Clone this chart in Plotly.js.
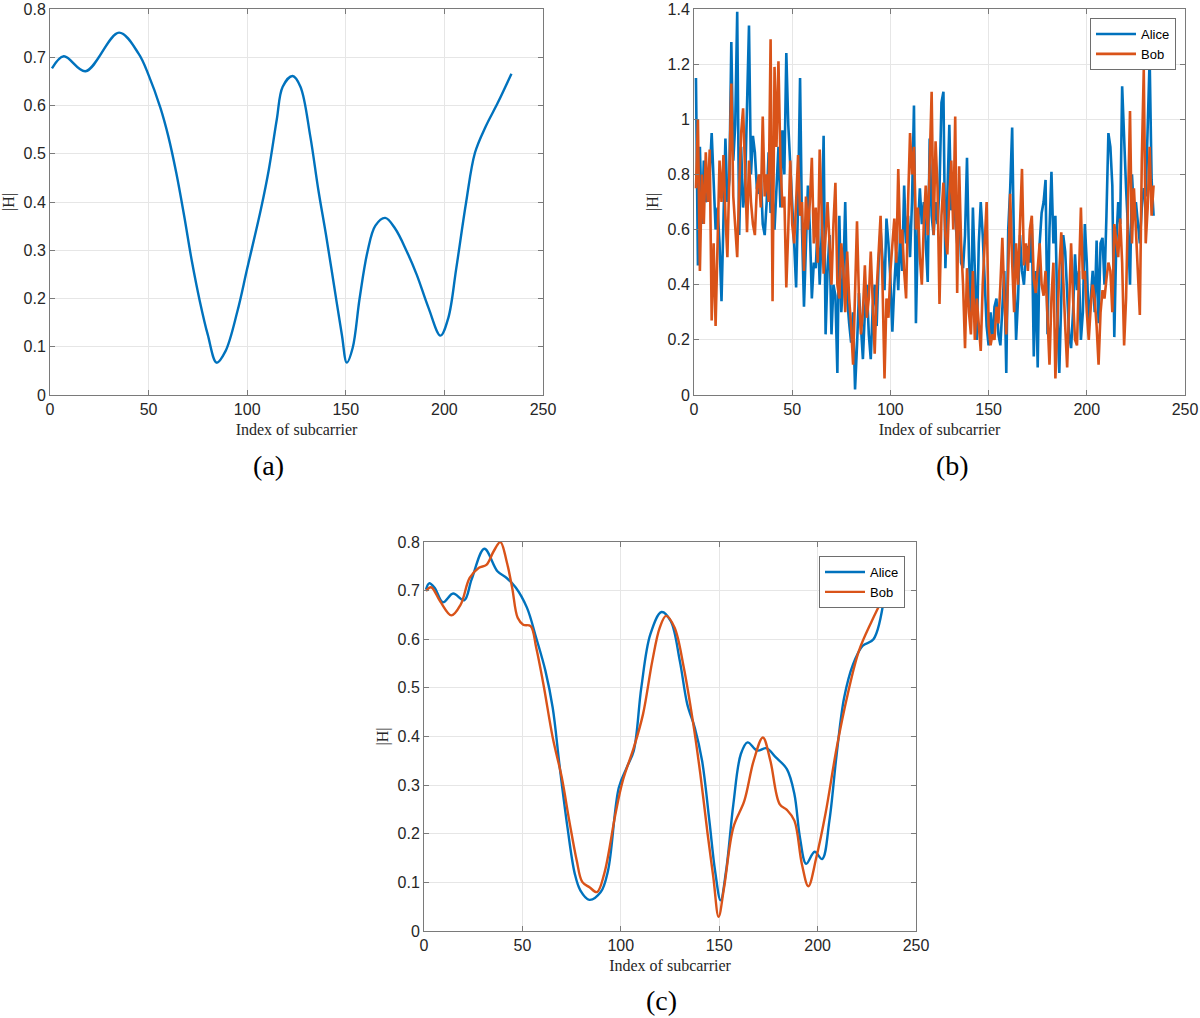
<!DOCTYPE html>
<html>
<head>
<meta charset="utf-8">
<script src="https://cdn.plot.ly/plotly-3.0.1.min.js"></script>
<style>
  html, body { margin: 0; padding: 0; background: #fff; }
  #fig { width: 1200px; height: 1018px; }
</style>
</head>
<body>
<div id="fig"></div>
<script>
// (a) single channel response, sampled along the smooth curve
const aX = [1, 7, 18, 35, 45, 50, 56, 60, 64, 68, 72, 76, 80, 84.5, 89, 95, 100, 107, 111, 115,
            118, 123, 127, 132, 136, 140, 144, 148, 150.5, 153.5, 157, 161, 165, 170, 175, 181, 186, 192, 198, 202,
            206, 211, 215.5, 221, 227, 234];
const aH = [0.677, 0.702, 0.671, 0.751, 0.707, 0.663, 0.595, 0.536, 0.461, 0.372, 0.276, 0.194, 0.125, 0.067, 0.091, 0.173, 0.262, 0.386, 0.468, 0.571,
            0.639, 0.661, 0.639, 0.536, 0.427, 0.331, 0.228, 0.125, 0.067, 0.098, 0.200, 0.297, 0.351, 0.367, 0.345, 0.297, 0.249, 0.180, 0.123, 0.160,
            0.262, 0.399, 0.502, 0.557, 0.605, 0.666];

// (b) raw measurements, one value per subcarrier
const bAlice = [
  1.15, 0.47, 0.90, 0.62, 0.85, 0.70, 0.72, 0.80, 0.95, 0.74,
  0.60, 0.68, 0.55, 0.34, 0.62, 0.93, 0.70, 0.78, 1.28, 0.85,
  0.98, 1.39, 0.58, 0.90, 0.68, 0.75, 1.05, 1.34, 0.80, 0.94,
  0.88, 0.75, 0.73, 0.80, 0.62, 0.58, 0.70, 0.88, 0.66, 0.72,
  0.60, 0.75, 0.90, 0.68, 0.96, 0.80, 1.24, 0.98, 0.85, 0.70,
  0.55, 0.39, 0.70, 1.15, 0.60, 0.32, 0.52, 0.76, 0.60, 0.35,
  0.48, 0.46, 0.62, 0.40, 0.58, 0.94, 0.22, 0.45, 0.58, 0.22,
  0.40, 0.36, 0.08, 0.65, 0.30, 0.42, 0.70, 0.35, 0.26, 0.19,
  0.30, 0.02, 0.18, 0.37, 0.25, 0.13, 0.30, 0.40, 0.22, 0.13,
  0.32, 0.40, 0.25, 0.48, 0.60, 0.50, 0.38, 0.64, 0.55, 0.42,
  0.23, 0.40, 0.52, 0.38, 0.60, 0.45, 0.76, 0.55, 0.65, 0.50,
  0.70, 1.05, 0.26, 0.60, 0.75, 0.62, 0.70, 0.55, 0.41, 0.93,
  0.65, 0.58, 0.70, 0.62, 0.75, 1.06, 1.10, 0.46, 0.70, 0.98,
  0.67, 0.72, 0.64, 0.55, 0.70, 0.48, 0.46, 0.58, 0.86, 0.50,
  0.29, 0.68, 0.45, 0.20, 0.55, 0.70, 0.58, 0.40, 0.25, 0.18,
  0.30, 0.20, 0.32, 0.35, 0.22, 0.18, 0.30, 0.45, 0.08, 0.60,
  0.75, 0.97, 0.50, 0.20, 0.35, 0.58, 0.45, 0.40, 0.52, 0.54,
  0.48, 0.62, 0.14, 0.45, 0.10, 0.55, 0.66, 0.70, 0.78, 0.22,
  0.60, 0.81, 0.55, 0.65, 0.30, 0.08, 0.35, 0.58, 0.52, 0.36,
  0.22, 0.17, 0.30, 0.51, 0.38, 0.45, 0.20, 0.30, 0.62, 0.48,
  0.25, 0.35, 0.45, 0.30, 0.56, 0.26, 0.55, 0.57, 0.40, 0.65,
  0.95, 0.90, 0.76, 0.21, 0.55, 0.70, 0.62, 1.12, 0.91, 0.75,
  0.60, 0.40, 0.80, 0.66, 0.70, 0.62, 0.55, 0.68, 0.75, 0.72,
  1.00, 1.22, 0.78, 0.65
];
const bBob = [
  0.75, 1.00, 0.45, 0.80, 0.62, 0.88, 0.70, 0.89, 0.27, 0.55,
  0.25, 0.62, 0.85, 0.70, 0.87, 0.65, 0.50, 0.80, 1.13, 0.72,
  0.60, 0.50, 0.75, 0.95, 1.04, 0.80, 0.59, 0.85, 0.70, 0.62,
  0.58, 0.75, 0.80, 0.68, 1.01, 0.72, 0.80, 0.70, 1.29, 0.34,
  1.19, 0.90, 1.21, 0.85, 0.68, 0.72, 0.39, 0.60, 0.85, 0.62,
  0.55, 0.70, 0.87, 0.65, 0.70, 0.45, 0.72, 0.60, 0.70, 0.86,
  0.55, 0.68, 0.48, 0.89, 0.65, 0.44, 0.58, 0.70, 0.55, 0.40,
  0.62, 0.77, 0.40, 0.35, 0.55, 0.46, 0.30, 0.52, 0.35, 0.25,
  0.11, 0.40, 0.63, 0.35, 0.22, 0.30, 0.47, 0.28, 0.35, 0.52,
  0.30, 0.15, 0.38, 0.50, 0.65, 0.40, 0.06, 0.35, 0.28, 0.45,
  0.55, 0.64, 0.48, 0.82, 0.55, 0.60, 0.45, 0.35, 0.70, 0.95,
  0.80, 0.90, 0.60, 0.68, 0.50, 0.40, 0.62, 0.76, 0.58, 0.85,
  1.10, 0.58, 0.92, 0.75, 0.33, 0.65, 0.77, 0.58, 0.51, 0.72,
  0.85, 0.60, 1.01, 0.37, 0.83, 0.55, 0.40, 0.17, 0.46, 0.30,
  0.22, 0.45, 0.20, 0.35, 0.25, 0.16, 0.40, 0.55, 0.70, 0.25,
  0.18, 0.22, 0.20, 0.32, 0.26, 0.40, 0.57, 0.35, 0.22, 0.45,
  0.73, 0.48, 0.30, 0.55, 0.40, 0.62, 0.82, 0.47, 0.55, 0.45,
  0.60, 0.65, 0.42, 0.37, 0.48, 0.55, 0.40, 0.36, 0.45, 0.28,
  0.11, 0.35, 0.48, 0.06, 0.30, 0.45, 0.59, 0.40, 0.25, 0.10,
  0.30, 0.55, 0.35, 0.20, 0.18, 0.45, 0.68, 0.42, 0.45, 0.30,
  0.20, 0.32, 0.40, 0.35, 0.25, 0.11, 0.30, 0.38, 0.35, 0.42,
  0.48, 0.45, 0.30, 0.62, 0.55, 0.50, 0.64, 0.48, 0.18, 0.35,
  0.70, 1.03, 0.55, 0.75, 0.60, 0.45, 0.29, 0.85, 1.18, 0.55,
  0.68, 0.90, 0.65, 0.76
];

// (c) after preprocessing, sampled along the smooth curves
const cAliceX = [1, 2.6, 5.4, 9.6, 14.8, 20.4, 24.2, 30.7, 37.3, 42,
                 46.7, 52.3, 57, 61.7, 65.4, 69, 72.9, 76.6, 79.5, 84,
                 89.8, 93.5, 99, 103, 106.6, 110.4, 115, 120.7, 125.4, 130,
                 133.8, 137.6, 141.3, 145, 147.9, 150.7, 153.5, 157.2, 161, 164.4,
                 169.4, 174, 178.8, 184.4, 188.2, 191, 194.2, 198.5, 202.3, 206,
                 209.7, 213.5, 218, 222.8, 228.4, 234];
const cAliceH = [0.702, 0.715, 0.706, 0.676, 0.694, 0.680, 0.723, 0.786, 0.740, 0.726,
                 0.706, 0.665, 0.603, 0.535, 0.459, 0.336, 0.213, 0.118, 0.083, 0.064,
                 0.080, 0.124, 0.295, 0.336, 0.371, 0.500, 0.610, 0.656, 0.637, 0.555,
                 0.466, 0.418, 0.350, 0.227, 0.124, 0.063, 0.124, 0.261, 0.364, 0.388,
                 0.371, 0.376, 0.357, 0.333, 0.282, 0.193, 0.138, 0.163, 0.148, 0.227,
                 0.364, 0.480, 0.548, 0.586, 0.600, 0.691];
const cBobX = [1, 3.6, 8.2, 13.9, 18.6, 23.2, 27.9, 31.7, 35.4, 38.8,
               42, 44.8, 47.6, 50.4, 54.2, 57, 60.7, 65.4, 70, 73.8,
               77.6, 80.4, 84.1, 87.9, 91.6, 97.3, 101, 106.6, 111.3, 116,
               119.8, 123, 127.3, 132, 136.6, 140.4, 144.1, 147, 149.7, 152.5,
               157.2, 162.8, 167.5, 172.2, 176, 180.7, 184.4, 188.2, 192, 195.3,
               199.4, 204, 209.7, 215.3, 221, 227.5, 234];
const cBobH = [0.699, 0.707, 0.678, 0.649, 0.671, 0.726, 0.747, 0.753, 0.781, 0.800,
               0.760, 0.706, 0.644, 0.630, 0.627, 0.583, 0.507, 0.398, 0.316, 0.227,
               0.145, 0.101, 0.090, 0.080, 0.118, 0.241, 0.309, 0.377, 0.446, 0.555,
               0.624, 0.648, 0.624, 0.542, 0.432, 0.323, 0.200, 0.111, 0.029, 0.090,
               0.213, 0.268, 0.350, 0.398, 0.350, 0.261, 0.249, 0.227, 0.138, 0.092,
               0.152, 0.241, 0.377, 0.487, 0.576, 0.637, 0.691];

const xTicks = [0, 50, 100, 150, 200, 250];
const panelLabels = ['(a)', '(b)', '(c)'];

const BLUE = '#0072BD', ORANGE = '#D95319';
const sans = 'Liberation Sans, Arial, sans-serif';
const serif = 'Liberation Serif, Times New Roman, serif';

const idx = arr => arr.map((_, i) => i + 1);

const traces = [
  {x: aX, y: aH, xaxis: 'x', yaxis: 'y', mode: 'lines', showlegend: false,
   line: {color: BLUE, width: 2.4, shape: 'spline', smoothing: 1}},
  {x: idx(bAlice), y: bAlice, xaxis: 'x2', yaxis: 'y2', mode: 'lines', name: 'Alice', legend: 'legend',
   line: {color: BLUE, width: 2.6}},
  {x: idx(bBob), y: bBob, xaxis: 'x2', yaxis: 'y2', mode: 'lines', name: 'Bob', legend: 'legend',
   line: {color: ORANGE, width: 2.6}},
  {x: cAliceX, y: cAliceH, xaxis: 'x3', yaxis: 'y3', mode: 'lines', name: 'Alice', legend: 'legend2',
   line: {color: BLUE, width: 2.4, shape: 'spline', smoothing: 1}},
  {x: cBobX, y: cBobH, xaxis: 'x3', yaxis: 'y3', mode: 'lines', name: 'Bob', legend: 'legend2',
   line: {color: ORANGE, width: 2.4, shape: 'spline', smoothing: 1}}
];

function xa(domain, anchor) {
  return {
    domain: domain, anchor: anchor, range: [0, 250], tickvals: xTicks,
    showline: true, mirror: 'ticks', linecolor: '#7a7a7a', linewidth: 1,
    ticks: 'inside', ticklen: 5, tickcolor: '#7a7a7a',
    showgrid: true, gridcolor: '#e6e6e6', zeroline: false,
    ticklabeloverflow: 'allow',
    tickfont: {family: sans, size: 16, color: '#262626'},
    title: {text: 'Index of subcarrier', font: {family: serif, size: 16, color: '#262626'}, standoff: 6}
  };
}
function ya(domain, anchor, top, step) {
  return {
    domain: domain, anchor: anchor, range: [0, top], dtick: step,
    showline: true, mirror: 'ticks', linecolor: '#7a7a7a', linewidth: 1,
    ticks: 'inside', ticklen: 5, tickcolor: '#7a7a7a',
    showgrid: true, gridcolor: '#e6e6e6', zeroline: false,
    ticklabeloverflow: 'allow',
    tickfont: {family: sans, size: 16, color: '#262626'},
    title: {text: '|H|', font: {family: serif, size: 16, color: '#262626'}, standoff: 4}
  };
}

const H = 1018, W = 1200;
const topDom = [1 - 395 / H, 1 - 9 / H];
const botDom = [1 - 931 / H, 1 - 542 / H];

const legendStyle = {
  bgcolor: '#ffffff', bordercolor: '#6e6e6e', borderwidth: 1,
  font: {family: sans, size: 13, color: '#000'},
  xanchor: 'right', yanchor: 'top', tracegroupgap: 0, itemwidth: 40
};

const layout = {
  width: W, height: H,
  margin: {l: 0, r: 0, t: 0, b: 0},
  paper_bgcolor: '#fff', plot_bgcolor: '#fff',
  xaxis: xa([50 / W, 543 / W], 'y'),
  yaxis: ya(topDom, 'x', 0.8, 0.1),
  xaxis2: xa([694 / W, 1185 / W], 'y2'),
  yaxis2: ya(topDom, 'x2', 1.4, 0.2),
  xaxis3: xa([424 / W, 916 / W], 'y3'),
  yaxis3: ya(botDom, 'x3', 0.8, 0.1),
  legend: Object.assign({x: 1176 / W, y: 1 - 18 / H}, legendStyle),
  legend2: Object.assign({x: 905 / W, y: 1 - 556 / H}, legendStyle),
  annotations: [
    {text: panelLabels[0], x: 268 / W, y: 1 - 466 / H},
    {text: panelLabels[1], x: 952 / W, y: 1 - 466 / H},
    {text: panelLabels[2], x: 661 / W, y: 1 - 1000 / H}
  ].map(a => Object.assign(a, {xref: 'paper', yref: 'paper', showarrow: false,
        xanchor: 'center', yanchor: 'middle', font: {family: serif, size: 28, color: '#000'}}))
};

Plotly.newPlot('fig', traces, layout, {staticPlot: true});
</script>
</body>
</html>
